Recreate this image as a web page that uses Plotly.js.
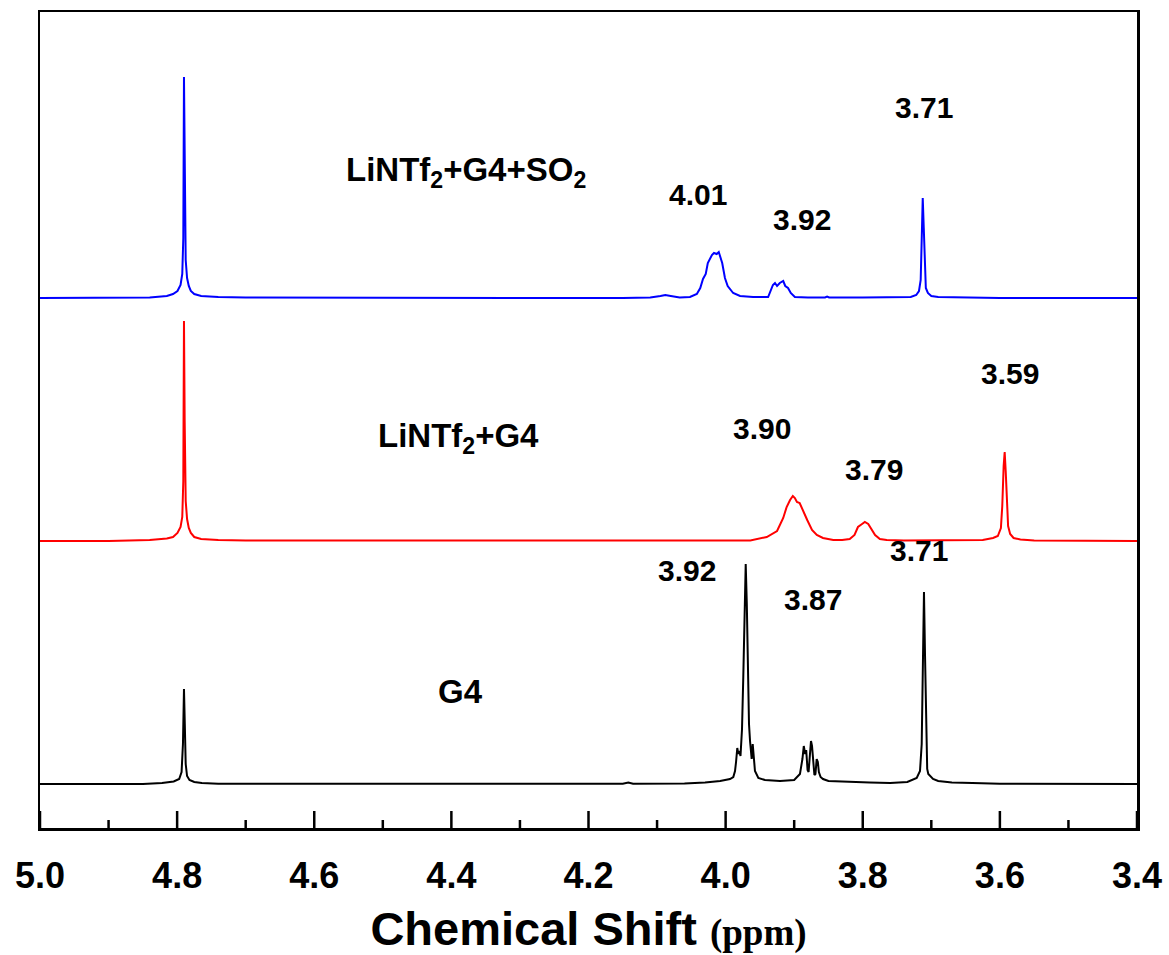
<!DOCTYPE html>
<html>
<head>
<meta charset="utf-8">
<script src="https://cdn.plot.ly/plotly-3.0.1.min.js"></script>
<style>
html, body { margin: 0; padding: 0; background: #fff; }
#chart { width: 1169px; height: 955px; }
</style>
</head>
<body>
<div id="chart"></div>
<script>
// Spectra: [chemical shift (ppm), intensity above own baseline (a.u.)]
const spectrumG4SO2 = [
  [5.00,0],[4.90,0],[4.84,0.5],[4.815,2],[4.806,4],[4.7995,7],[4.795,13],[4.7925,24],[4.791,60],[4.790,221],
  [4.789,120],[4.7875,38],[4.7855,20],[4.783,12],[4.780,7],[4.775,4],[4.765,2],[4.74,1],[4.70,0.5],[4.50,0],
  [4.30,0],[4.15,0],[4.11,0.5],[4.095,2],[4.088,3],[4.080,2],[4.067,0.5],[4.052,1],[4.042,4],[4.037,10],
  [4.033,19],[4.029,24],[4.026,35],[4.020,43],[4.017,45],[4.013,44],[4.010,46],[4.005,35],[4.001,20],[3.997,12],
  [3.989,5],[3.979,2],[3.960,1],[3.938,1],[3.934,7],[3.931,13],[3.928,15],[3.925,12],[3.921,15],[3.916,17],
  [3.913,12],[3.909,10],[3.905,5],[3.899,1],[3.880,0.5],[3.855,0.5],[3.852,1.5],[3.849,0.5],[3.80,0.5],[3.760,0.5],
  [3.730,1],[3.722,3],[3.718,7],[3.7155,18],[3.714,50],[3.7125,100],[3.711,70],[3.7095,25],[3.708,10],[3.705,5],
  [3.700,2],[3.690,1],[3.660,0.5],[3.60,0],[3.50,0],[3.40,0]
];
const spectrumG4 = [
  [5.00,0],[4.90,0],[4.84,1],[4.815,2.5],[4.806,4],[4.7995,8],[4.795,14],[4.7925,24],[4.791,60],[4.790,220],
  [4.789,120],[4.7875,40],[4.7855,22],[4.783,13],[4.780,8],[4.775,4],[4.765,2],[4.74,1],[4.70,0.5],[4.40,0.5],
  [4.10,0.5],[4.00,0.5],[3.964,0.5],[3.940,4],[3.925,10],[3.916,23],[3.911,34],[3.906,41],[3.902,45],[3.899,43],
  [3.896,39],[3.892,38],[3.887,31],[3.881,21],[3.874,11],[3.867,6],[3.858,3],[3.843,1],[3.830,1],[3.819,2],
  [3.812,6],[3.807,14],[3.801,17],[3.797,19],[3.792,17],[3.787,12],[3.782,6],[3.775,2],[3.765,1],[3.740,0.5],
  [3.700,0.5],[3.650,0.5],[3.625,1],[3.610,3],[3.603,5],[3.5985,13],[3.5965,35],[3.5945,75],[3.593,89],[3.5915,70],
  [3.590,40],[3.588,15],[3.585,7],[3.580,3],[3.570,1.5],[3.550,0.5],[3.40,0]
];
const spectrumPureG4 = [
  [5.00,0],[4.90,0],[4.850,0],[4.822,1],[4.805,2.5],[4.797,5],[4.7935,12],[4.7915,40],[4.790,95],[4.7888,60],
  [4.7875,20],[4.7855,8],[4.782,4],[4.775,2],[4.764,1],[4.74,0.3],[4.50,0],[4.20,0],[4.150,0.3],[4.142,1.5],
  [4.135,0.3],[4.060,0.5],[4.030,1.5],[4.008,3],[3.9936,5],[3.9888,7],[3.9863,13],[3.9848,22],[3.9830,36],[3.9815,30],
  [3.9801,33],[3.9783,28],[3.9761,55],[3.9742,108],[3.9725,170],[3.9707,220],[3.9691,180],[3.9674,110],[3.9659,60],[3.9644,43],
  [3.9630,30],[3.9620,25],[3.9605,40],[3.9586,22],[3.9572,13],[3.9523,6],[3.9426,4],[3.9207,3],[3.9000,4],[3.8916,10],
  [3.8880,25],[3.8860,38],[3.8840,30],[3.8825,34],[3.8805,14],[3.8790,12],[3.8770,30],[3.8755,43],[3.8740,38],[3.8725,20],
  [3.8705,9],[3.8690,10],[3.8672,25],[3.8655,22],[3.8640,12],[3.8615,7],[3.8580,5],[3.8500,3],[3.8200,2],[3.7900,1.5],
  [3.760,1],[3.735,2],[3.7213,6],[3.7165,13],[3.7140,40],[3.7120,110],[3.7107,192],[3.7092,130],[3.7075,45],[3.7060,15],
  [3.7044,10],[3.6975,5],[3.690,3],[3.670,1.5],[3.640,1],[3.600,0.3],[3.40,0]
];
// vertical stacking offsets of the three spectra (a.u.)
const offsets = { so2: 530, g4li: 287, g4: 44 };

const sampleLabels = [
  {text: 'LiNTf<sub>2</sub>+G4+SO<sub>2</sub>', x: 4.379, y: 656},
  {text: 'LiNTf<sub>2</sub>+G4', x: 4.390, y: 390},
  {text: 'G4', x: 4.386, y: 137}
];
const peakLabels = [
  {text: '4.01', x: 4.040, y: 634},
  {text: '3.92', x: 3.888, y: 609},
  {text: '3.71', x: 3.711, y: 721},
  {text: '3.90', x: 3.947, y: 400},
  {text: '3.79', x: 3.784, y: 359},
  {text: '3.59', x: 3.585, y: 455},
  {text: '3.92', x: 4.057, y: 258},
  {text: '3.87', x: 3.873, y: 229},
  {text: '3.71', x: 3.718, y: 278}
];
const xTickVals = [5.0, 4.8, 4.6, 4.4, 4.2, 4.0, 3.8, 3.6, 3.4];
const xTickText = ['5.0', '4.8', '4.6', '4.4', '4.2', '4.0', '3.8', '3.6', '3.4'];
const xMinorTickVals = [4.9, 4.7, 4.5, 4.3, 4.1, 3.9, 3.7, 3.5];

function mk(spec, off, color) {
  return {
    type: 'scatter', mode: 'lines',
    x: spec.map(p => p[0]),
    y: spec.map(p => p[1] + off),
    line: {color: color, width: 2},
    hoverinfo: 'skip', showlegend: false
  };
}
const traces = [
  mk(spectrumPureG4, offsets.g4, '#000000'),
  mk(spectrumG4, offsets.g4li, '#ff0000'),
  mk(spectrumG4SO2, offsets.so2, '#0000ff')
];

const boldSans = {family: 'Liberation Sans, Arial, sans-serif', color: '#000', weight: 'bold'};
const annotations = [];
sampleLabels.forEach(l => annotations.push({
  text: l.text, x: l.x, y: l.y, xref: 'x', yref: 'y', showarrow: false,
  xanchor: 'center', yanchor: 'middle',
  font: Object.assign({}, boldSans, {size: 33})
}));
peakLabels.forEach(l => annotations.push({
  text: l.text, x: l.x, y: l.y, xref: 'x', yref: 'y', showarrow: false,
  xanchor: 'center', yanchor: 'middle',
  font: Object.assign({}, boldSans, {size: 30})
}));

// inside tick marks at the data positions of the x axis
const shapes = [];
xTickVals.forEach(v => shapes.push({
  type: 'line', xref: 'x', yref: 'paper', x0: v, x1: v, y0: 0, y1: 17 / 816,
  line: {color: '#000', width: 2.5}
}));
xMinorTickVals.forEach(v => shapes.push({
  type: 'line', xref: 'x', yref: 'paper', x0: v, x1: v, y0: 0, y1: 8 / 816,
  line: {color: '#000', width: 2.5}
}));

const layout = {
  width: 1169, height: 955,
  margin: {l: 40, r: 32, t: 12, b: 127},
  paper_bgcolor: '#fff', plot_bgcolor: '#fff',
  showlegend: false,
  xaxis: {
    range: [5.0, 3.4], autorange: false,
    tickmode: 'array', tickvals: xTickVals, ticktext: xTickText,
    ticks: '',
    tickfont: Object.assign({}, boldSans, {size: 36}),
    ticklabelstandoff: 14,
    showline: true, linecolor: '#000', linewidth: 2.5, mirror: true,
    showgrid: false, zeroline: false,
    title: {
      text: 'Chemical Shift <span style="font-family:Liberation Serif, Times New Roman, serif;font-size:37px">(ppm)</span>',
      font: Object.assign({}, boldSans, {size: 47}),
      standoff: 20
    }
  },
  yaxis: {
    range: [0, 816], autorange: false,
    showticklabels: false, ticks: '',
    showline: true, linecolor: '#000', linewidth: 2.5, mirror: true,
    showgrid: false, zeroline: false
  },
  shapes: shapes,
  annotations: annotations
};

Plotly.newPlot('chart', traces, layout, {displayModeBar: false, staticPlot: true});
</script>
</body>
</html>
